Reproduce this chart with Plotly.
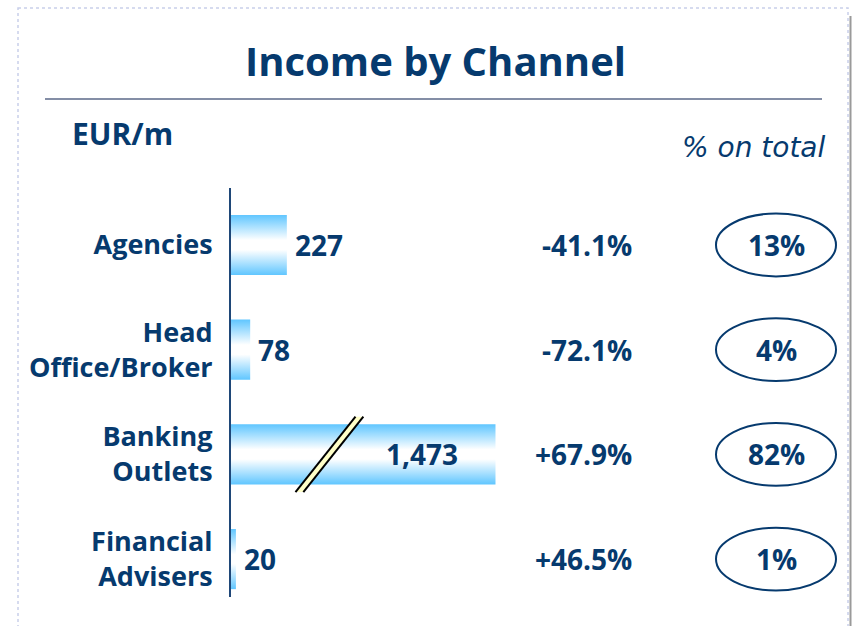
import plotly.graph_objects as go

# ---- data ----
categories = ["Agencies", "Head<br>Office/Broker", "Banking<br>Outlets", "Financial<br>Advisers"]
income = [227, 78, 1473, 20]                    # EUR/m
income_labels = ["227", "78", "1,473", "20"]
change_labels = ["-41.1%", "-72.1%", "+67.9%", "+46.5%"]
share_labels = ["13%", "4%", "82%", "1%"]

# broken axis: bars longer than this are drawn truncated with a break mark
AXIS_BREAK_DISPLAY = 1075
BREAK_MARK_AT = 400

W, H = 852, 626
NAVY = "#063a6e"
FONT = "Open Sans"

def px(x):
    return x / W

def py(y):
    return 1 - y / H

fig = go.Figure()

half = 0.287
grad = [[0, "#60c6ff"], [0.42, "#ffffff"], [0.58, "#ffffff"], [1, "#60c6ff"]]
shown = [min(v, AXIS_BREAK_DISPLAY) for v in income]
for i, v in enumerate(shown):
    fig.add_trace(go.Scatter(
        x=[0, v, v, 0, 0],
        y=[i - half, i - half, i + half, i + half, i - half],
        mode="lines", fill="toself", line=dict(width=0),
        fillgradient=dict(type="vertical", colorscale=grad),
        hoverinfo="skip", showlegend=False,
    ))

annotations = []
for i, (v, lab, full) in enumerate(zip(shown, income_labels, income)):
    truncated = full > AXIS_BREAK_DISPLAY
    annotations.append(dict(
        x=v, y=i, xref="x", yref="y", text=lab, showarrow=False,
        xanchor="right" if truncated else "left",
        xshift=-35 if truncated else 6,
        font=dict(family=FONT, size=28, color=NAVY, weight="bold"),
    ))
    annotations.append(dict(
        x=px(634), y=i, xref="paper", yref="y", text=change_labels[i], showarrow=False,
        xanchor="right", font=dict(family=FONT, size=28, color=NAVY, weight="bold"),
    ))
    annotations.append(dict(
        x=px(776), y=i, xref="paper", yref="y", text=share_labels[i], showarrow=False,
        xanchor="center", font=dict(family=FONT, size=28, color=NAVY, weight="bold"),
    ))

annotations += [
    dict(x=px(435), y=py(60), xref="paper", yref="paper", text="Income by Channel",
         showarrow=False, xanchor="center", yanchor="middle",
         font=dict(family=FONT, size=40, color=NAVY, weight="bold")),
    dict(x=px(70), y=py(133), xref="paper", yref="paper", text="EUR/m",
         showarrow=False, xanchor="left", yanchor="middle",
         font=dict(family=FONT, size=30, color=NAVY, weight="bold")),
    dict(x=px(828), y=py(148), xref="paper", yref="paper", text="% on total",
         showarrow=False, xanchor="right", yanchor="middle",
         font=dict(family="DejaVu Sans", size=28, color=NAVY, style="italic")),
]

shapes = []
# panel border and shadow
shapes.append(dict(type="rect", xref="paper", yref="paper", x0=px(18), x1=px(848),
                   y0=py(8), y1=py(640), line=dict(color="#c9d0ea", width=1.5, dash="dot")))
shapes.append(dict(type="line", xref="paper", yref="paper", x0=px(850.5), x1=px(850.5),
                   y0=py(16), y1=py(626), line=dict(color="#9a9a9a", width=2)))
# separator under title
shapes.append(dict(type="line", xref="paper", yref="paper", x0=px(45), x1=px(822),
                   y0=py(99), y1=py(99), line=dict(color="#5b6888", width=1.5)))
# ellipses
for i in range(len(categories)):
    shapes.append(dict(type="circle", xref="paper", yref="y", x0=px(716), x1=px(836),
                       y0=i - 0.3, y1=i + 0.3, line=dict(color=NAVY, width=2)))
# break mark on truncated bars
for i, full in enumerate(income):
    if full > AXIS_BREAK_DISPLAY:
        dx, t, e = 122, 16, 0.36
        yb, yt = i + e, i - e
        pts = [(BREAK_MARK_AT - dx - t, yb), (BREAK_MARK_AT - dx + t, yb),
               (BREAK_MARK_AT + dx + t, yt), (BREAK_MARK_AT + dx - t, yt)]
        path = "M " + " L ".join(f"{a},{b}" for a, b in pts) + " Z"
        shapes.append(dict(type="path", xref="x", yref="y", path=path,
                           fillcolor="#ffffc8", line=dict(width=0)))
        for s in (-t, t):
            shapes.append(dict(type="line", xref="x", yref="y",
                               x0=BREAK_MARK_AT - dx + s, y0=yb,
                               x1=BREAK_MARK_AT + dx + s, y1=yt,
                               line=dict(color="#000000", width=2)))

fig.update_layout(
    width=W, height=H, margin=dict(l=0, r=0, t=0, b=0),
    paper_bgcolor="white", plot_bgcolor="white",
    xaxis=dict(domain=[231 / W, 1], range=[0, 2524], visible=False, fixedrange=True),
    yaxis=dict(domain=[29 / H, 438 / H], range=[3.362, -0.544], fixedrange=True,
               tickvals=list(range(len(categories))), ticktext=categories,
               showline=True, linecolor="#1f4778", linewidth=2,
               showgrid=False, zeroline=False, ticks="", ticklabelstandoff=11,
               tickfont=dict(family=FONT, size=27, color=NAVY, weight="bold")),
    annotations=annotations, shapes=shapes, showlegend=False,
)

fig.write_html("out.html", config={"displayModeBar": False},
               post_script="document.body.style.margin='0';document.body.style.overflow='hidden';")
